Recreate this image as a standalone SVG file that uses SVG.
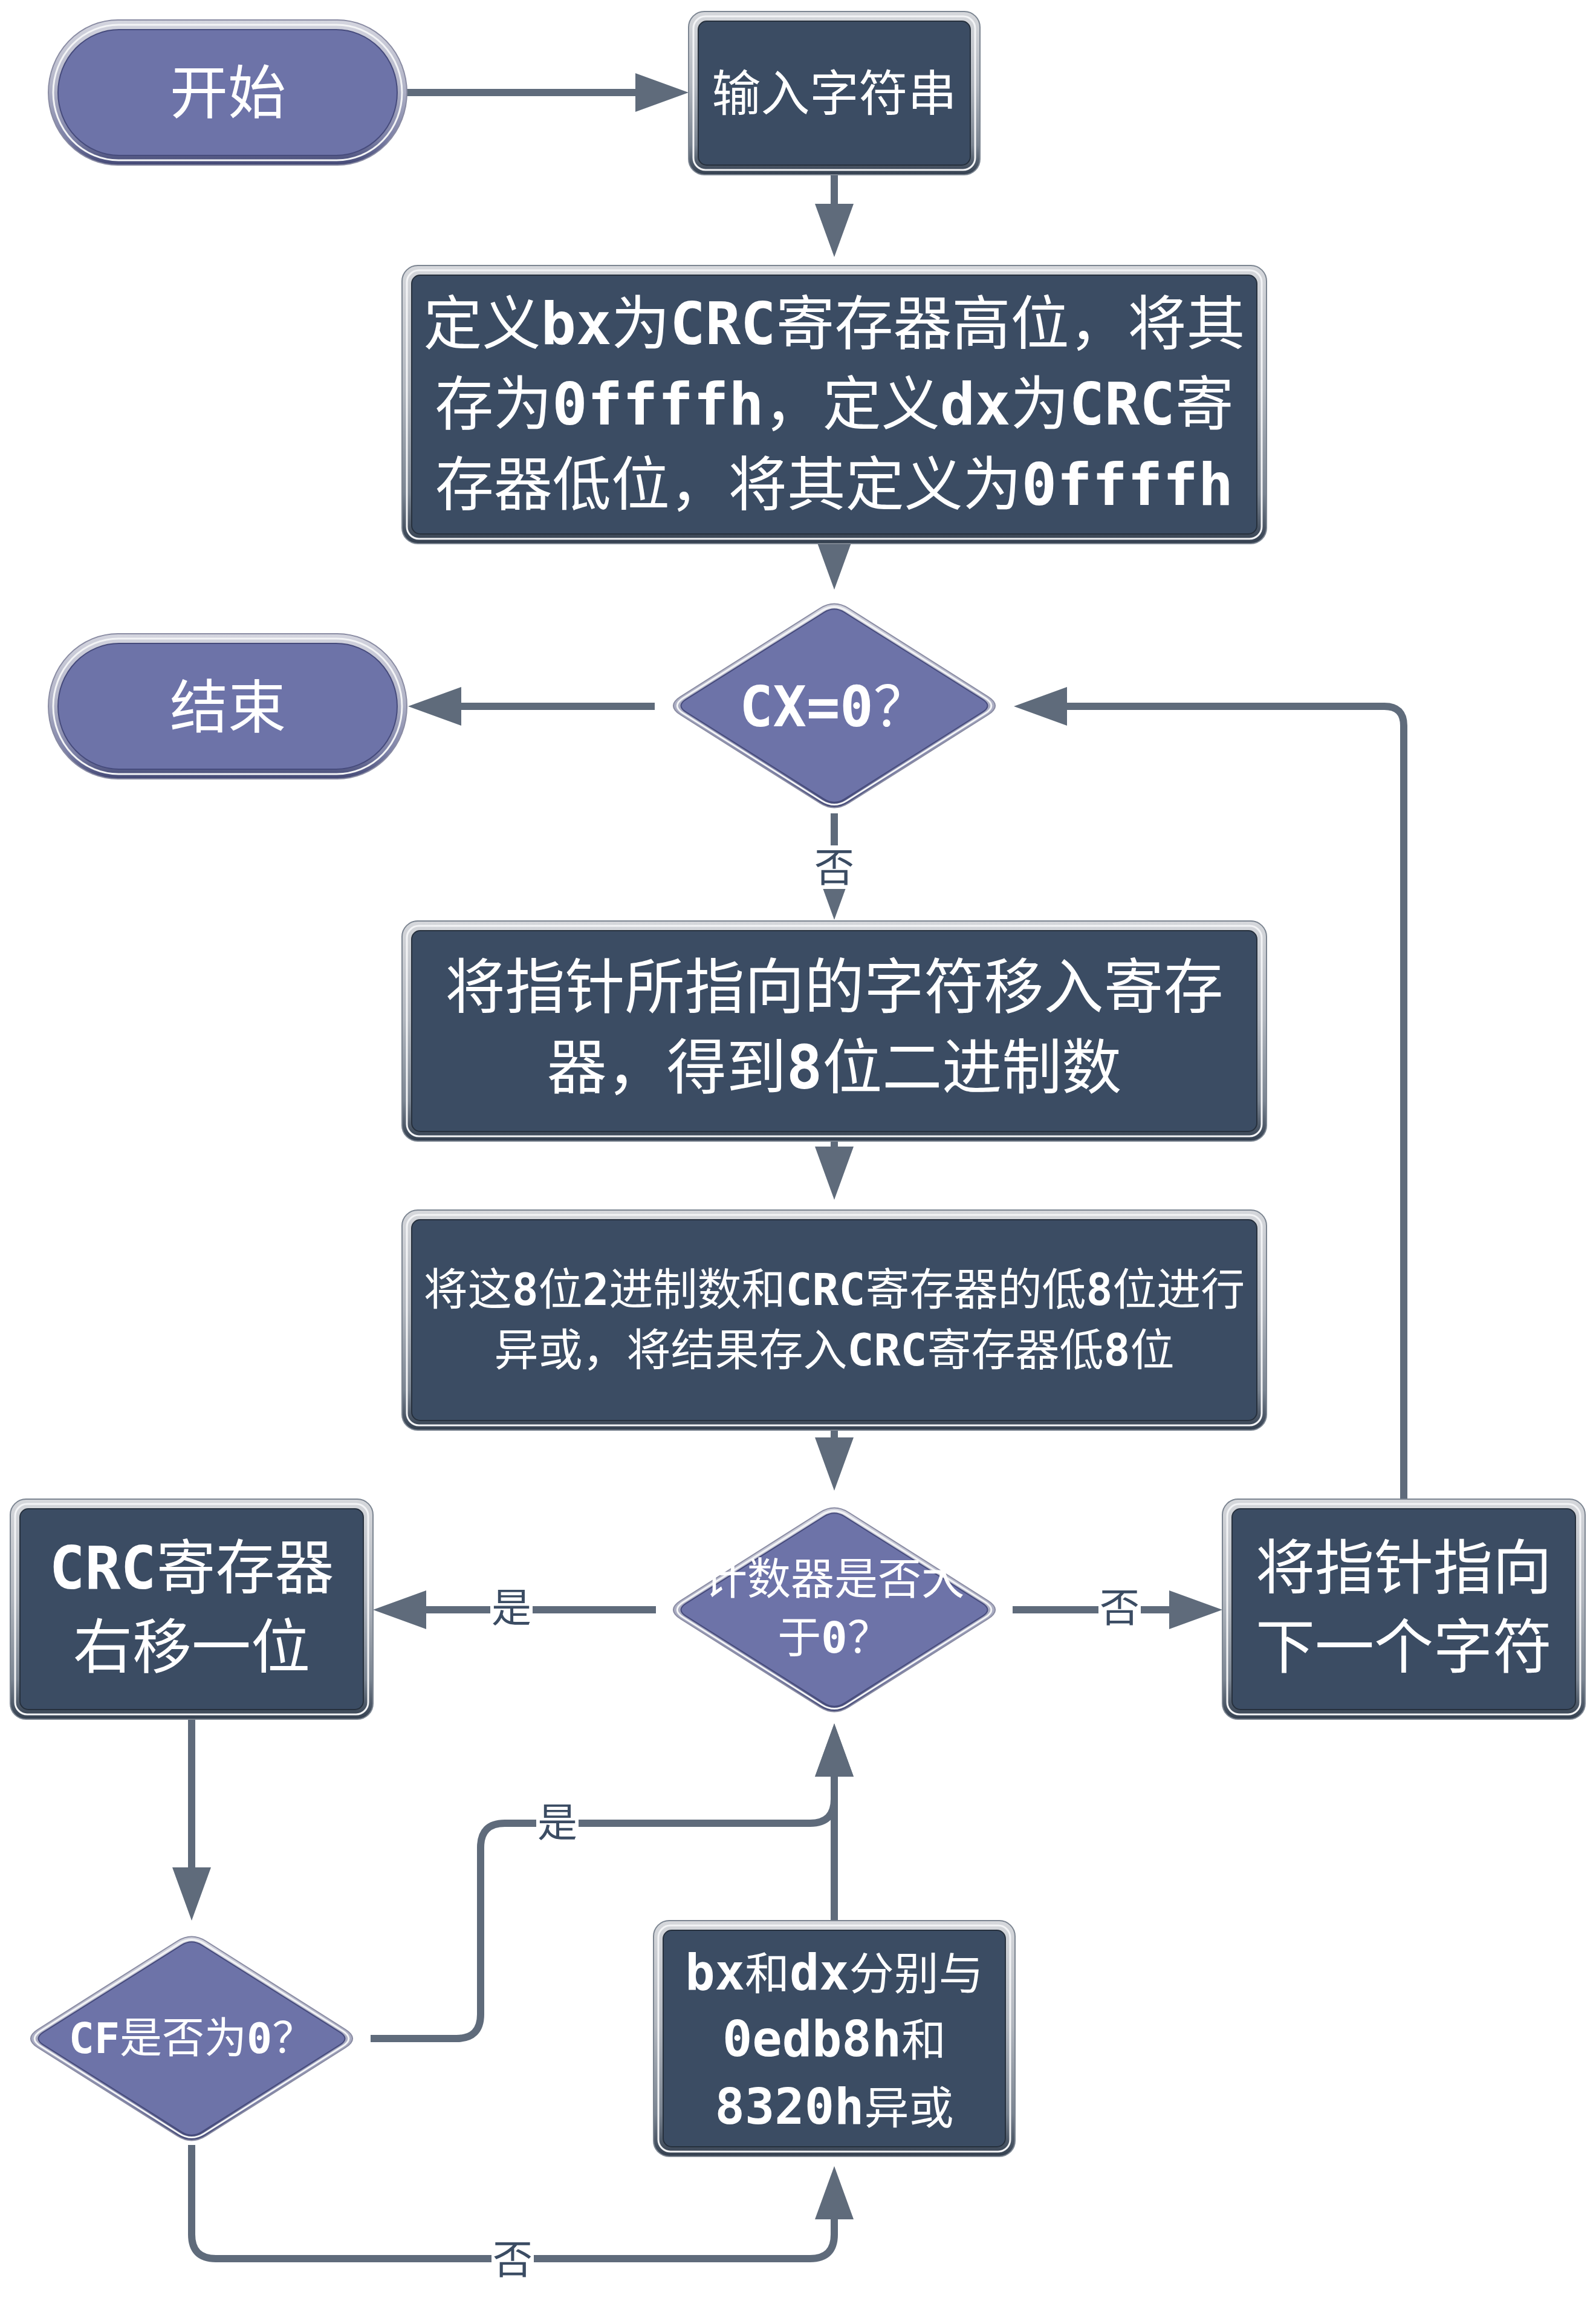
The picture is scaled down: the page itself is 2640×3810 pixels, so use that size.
<svg xmlns="http://www.w3.org/2000/svg" xmlns:xlink="http://www.w3.org/1999/xlink" width="2640" height="3810" viewBox="0 0 2640 3810">
  <defs>
    <style>
      .rim-d { fill: url(#gRimD); stroke: #7c8591; stroke-width: 2; }
      .rim-p { fill: url(#gRimP); stroke: #8a8ca3; stroke-width: 2; }
      .hl { fill: none; stroke: #f3f4f6; stroke-width: 3; }
      .face-d { fill: #3b4c63; stroke: #26303d; stroke-width: 2; }
      .face-p { fill: #6d73a8; stroke: #464b7c; stroke-width: 2; }
      .t { fill: #ffffff; font-family: "Noto Sans CJK SC", "Noto Sans", sans-serif; text-anchor: middle; }
      .m { font-family: "DejaVu Sans Mono", "Liberation Mono", monospace; font-weight: bold; }
      .wire { fill: none; stroke: #5f6b7b; stroke-width: 12; marker-end: url(#arrow); }
      .lbl-bg { fill: #ffffff; }
      .lbl { fill: #3b4c63; font-family: "Noto Sans CJK SC", sans-serif; font-size: 66px; text-anchor: middle; }
    </style>
    <linearGradient id="gRimD" x1="0" y1="0" x2="0" y2="1">
      <stop offset="0" stop-color="#d6d8dc"/>
      <stop offset="0.45" stop-color="#b1b6be"/>
      <stop offset="0.82" stop-color="#7a8491"/>
      <stop offset="1" stop-color="#333f4f"/>
    </linearGradient>
    <linearGradient id="gRimP" x1="0" y1="0" x2="0" y2="1">
      <stop offset="0" stop-color="#d4d5df"/>
      <stop offset="0.45" stop-color="#b3b5c8"/>
      <stop offset="0.82" stop-color="#7c80a6"/>
      <stop offset="1" stop-color="#434875"/>
    </linearGradient>
    <marker id="arrow" markerUnits="userSpaceOnUse" markerWidth="88" markerHeight="64" refX="70" refY="32" orient="auto">
      <path d="M0,0 L88,32 L0,64 Z" fill="#5f6b7b"/>
    </marker>
    <!-- decision shape, centred on the origin -->
    <path id="dOuter" d="M23.7,-161 L254.3,-15 Q278,0 254.3,15 L23.7,161 Q0,176 -23.7,161 L-254.3,15 Q-278,0 -254.3,-15 L-23.7,-161 Q0,-176 23.7,-161 Z"/>
    <path id="dMid" d="M20.3,-157.2 L249.7,-12.8 Q270,0 249.7,12.8 L20.3,157.2 Q0,170 -20.3,157.2 L-249.7,12.8 Q-270,0 -249.7,-12.8 L-20.3,-157.2 Q0,-170 20.3,-157.2 Z"/>
    <path id="dInner" d="M16.9,-154.3 L245.1,-10.7 Q262,0 245.1,10.7 L16.9,154.3 Q0,165 -16.9,154.3 L-245.1,10.7 Q-262,0 -245.1,-10.7 L-16.9,-154.3 Q0,-165 16.9,-154.3 Z"/>
  </defs>

  <rect width="2640" height="3810" fill="#ffffff"/>

  <!-- connectors -->
  <g id="connectors">
    <path class="wire" d="M673,153 H1121"/>
    <path class="wire" d="M1380,289 V407"/>
    <path class="wire" d="M1380,898 V957"/>
    <path class="wire" d="M1083,1168 H693"/>
    <path class="wire" d="M2322,2478 V1200 Q2322,1168 2290,1168 H1695"/>
    <path class="wire" d="M1380,1345 V1503"/>
    <path class="wire" d="M1380,1888 V1966"/>
    <path class="wire" d="M1380,2365 V2447"/>
    <path class="wire" d="M1085,2662 H635"/>
    <path class="wire" d="M1675,2662 H2004"/>
    <path class="wire" d="M317,2843 V3158"/>
    <path class="wire" d="M613,3371 H755 Q795,3371 795,3331 V3055 Q795,3015 835,3015 H1340 Q1380,3015 1380,2975 V2868"/>
    <path class="wire" d="M1380,3176 V2868"/>
    <path class="wire" d="M317,3547 V3695 Q317,3735 357,3735 H1340 Q1380,3735 1380,3695 V3600"/>

    <rect class="lbl-bg" x="1345" y="1398" width="70" height="72"/>
    <text class="lbl" x="1380" y="1458">否</text>
    <rect class="lbl-bg" x="811" y="2622" width="70" height="72"/>
    <text class="lbl" x="846" y="2682">是</text>
    <rect class="lbl-bg" x="1817" y="2622" width="70" height="72"/>
    <text class="lbl" x="1852" y="2682">否</text>
    <rect class="lbl-bg" x="887" y="2977" width="70" height="72"/>
    <text class="lbl" x="922" y="3037">是</text>
    <rect class="lbl-bg" x="813" y="3700" width="70" height="72"/>
    <text class="lbl" x="848" y="3760">否</text>
  </g>

  <!-- start terminal -->
  <g id="n-start">
    <rect class="rim-p" x="80" y="33" width="593" height="240" rx="115" ry="120"/>
    <rect class="hl" x="88" y="41" width="577" height="224" rx="108" ry="112"/>
    <rect class="face-p" x="96" y="49" width="561" height="208" rx="101" ry="104"/>
    <text class="t" x="377" y="187" font-size="96">开始</text>
  </g>

  <!-- input string -->
  <g id="n-input">
    <rect class="rim-d" x="1139" y="19" width="482" height="270" rx="26"/>
    <rect class="hl" x="1147" y="27" width="466" height="254" rx="20"/>
    <rect class="face-d" x="1155" y="35" width="450" height="238" rx="14"/>
    <text class="t" x="1380" y="183" font-size="81">输入字符串</text>
  </g>

  <!-- register initialisation -->
  <g id="n-init">
    <rect class="rim-d" x="665" y="439" width="1430" height="460" rx="26"/>
    <rect class="hl" x="673" y="447" width="1414" height="444" rx="20"/>
    <rect class="face-d" x="681" y="455" width="1398" height="428" rx="14"/>
    <text class="t" x="1380" y="569" font-size="97">定义<tspan class="m">bx</tspan>为<tspan class="m">CRC</tspan>寄存器高位，将其</text>
    <text class="t" x="1380" y="702" font-size="97">存为<tspan class="m">0ffffh</tspan>，定义<tspan class="m">dx</tspan>为<tspan class="m">CRC</tspan>寄</text>
    <text class="t" x="1380" y="835" font-size="97">存器低位，将其定义为<tspan class="m">0ffffh</tspan></text>
  </g>

  <!-- loop test -->
  <g id="n-cx">
    <use xlink:href="#dOuter" class="rim-p" transform="translate(1380,1167)"/>
    <use xlink:href="#dMid" class="hl" transform="translate(1380,1167)"/>
    <use xlink:href="#dInner" class="face-p" transform="translate(1380,1167)"/>
    <text class="t" x="1380" y="1201" font-size="92"><tspan class="m">CX=0</tspan>？</text>
  </g>

  <!-- end terminal -->
  <g id="n-end">
    <rect class="rim-p" x="80" y="1048" width="593" height="240" rx="115" ry="120"/>
    <rect class="hl" x="88" y="1056" width="577" height="224" rx="108" ry="112"/>
    <rect class="face-p" x="96" y="1064" width="561" height="208" rx="101" ry="104"/>
    <text class="t" x="377" y="1203" font-size="96">结束</text>
  </g>

  <!-- load character -->
  <g id="n-load">
    <rect class="rim-d" x="665" y="1523" width="1430" height="364" rx="26"/>
    <rect class="hl" x="673" y="1531" width="1414" height="348" rx="20"/>
    <rect class="face-d" x="681" y="1539" width="1398" height="332" rx="14"/>
    <text class="t" x="1380" y="1667" font-size="99">将指针所指向的字符移入寄存</text>
    <text class="t" x="1380" y="1800" font-size="99">器，得到<tspan class="m">8</tspan>位二进制数</text>
  </g>

  <!-- xor into low byte -->
  <g id="n-xor">
    <rect class="rim-d" x="665" y="2001" width="1430" height="364" rx="26"/>
    <rect class="hl" x="673" y="2009" width="1414" height="348" rx="20"/>
    <rect class="face-d" x="681" y="2017" width="1398" height="332" rx="14"/>
    <text class="t" x="1380" y="2158" font-size="73">将这<tspan class="m">8</tspan>位<tspan class="m">2</tspan>进制数和<tspan class="m">CRC</tspan>寄存器的低<tspan class="m">8</tspan>位进行</text>
    <text class="t" x="1380" y="2258" font-size="73">异或，将结果存入<tspan class="m">CRC</tspan>寄存器低<tspan class="m">8</tspan>位</text>
  </g>

  <!-- bit counter test -->
  <g id="n-count">
    <use xlink:href="#dOuter" class="rim-p" transform="translate(1380,2662)"/>
    <use xlink:href="#dMid" class="hl" transform="translate(1380,2662)"/>
    <use xlink:href="#dInner" class="face-p" transform="translate(1380,2662)"/>
    <text class="t" x="1380" y="2636" font-size="72">计数器是否大</text>
    <text class="t" x="1380" y="2733" font-size="72">于<tspan class="m">0</tspan>？</text>
  </g>

  <!-- shift right -->
  <g id="n-shift">
    <rect class="rim-d" x="17" y="2479" width="600" height="364" rx="26"/>
    <rect class="hl" x="25" y="2487" width="584" height="348" rx="20"/>
    <rect class="face-d" x="33" y="2495" width="568" height="332" rx="14"/>
    <text class="t" x="317" y="2627" font-size="98"><tspan class="m">CRC</tspan>寄存器</text>
    <text class="t" x="317" y="2758" font-size="98">右移一位</text>
  </g>

  <!-- next character -->
  <g id="n-next">
    <rect class="rim-d" x="2022" y="2479" width="600" height="364" rx="26"/>
    <rect class="hl" x="2030" y="2487" width="584" height="348" rx="20"/>
    <rect class="face-d" x="2038" y="2495" width="568" height="332" rx="14"/>
    <text class="t" x="2322" y="2627" font-size="98">将指针指向</text>
    <text class="t" x="2322" y="2758" font-size="98">下一个字符</text>
  </g>

  <!-- carry flag test -->
  <g id="n-cf">
    <use xlink:href="#dOuter" class="rim-p" transform="translate(317,3371)"/>
    <use xlink:href="#dMid" class="hl" transform="translate(317,3371)"/>
    <use xlink:href="#dInner" class="face-p" transform="translate(317,3371)"/>
    <text class="t" x="317" y="3395" font-size="70"><tspan class="m">CF</tspan>是否为<tspan class="m">0</tspan>？</text>
  </g>

  <!-- polynomial xor -->
  <g id="n-poly">
    <rect class="rim-d" x="1081" y="3176" width="598" height="390" rx="26"/>
    <rect class="hl" x="1089" y="3184" width="582" height="374" rx="20"/>
    <rect class="face-d" x="1097" y="3192" width="566" height="358" rx="14"/>
    <text class="t" x="1380" y="3290" font-size="74"><tspan class="m" font-size="82">bx</tspan>和<tspan class="m" font-size="82">dx</tspan>分别与</text>
    <text class="t" x="1380" y="3400" font-size="74"><tspan class="m" font-size="82">0edb8h</tspan>和</text>
    <text class="t" x="1380" y="3512" font-size="74"><tspan class="m" font-size="82">8320h</tspan>异或</text>
  </g>
</svg>
